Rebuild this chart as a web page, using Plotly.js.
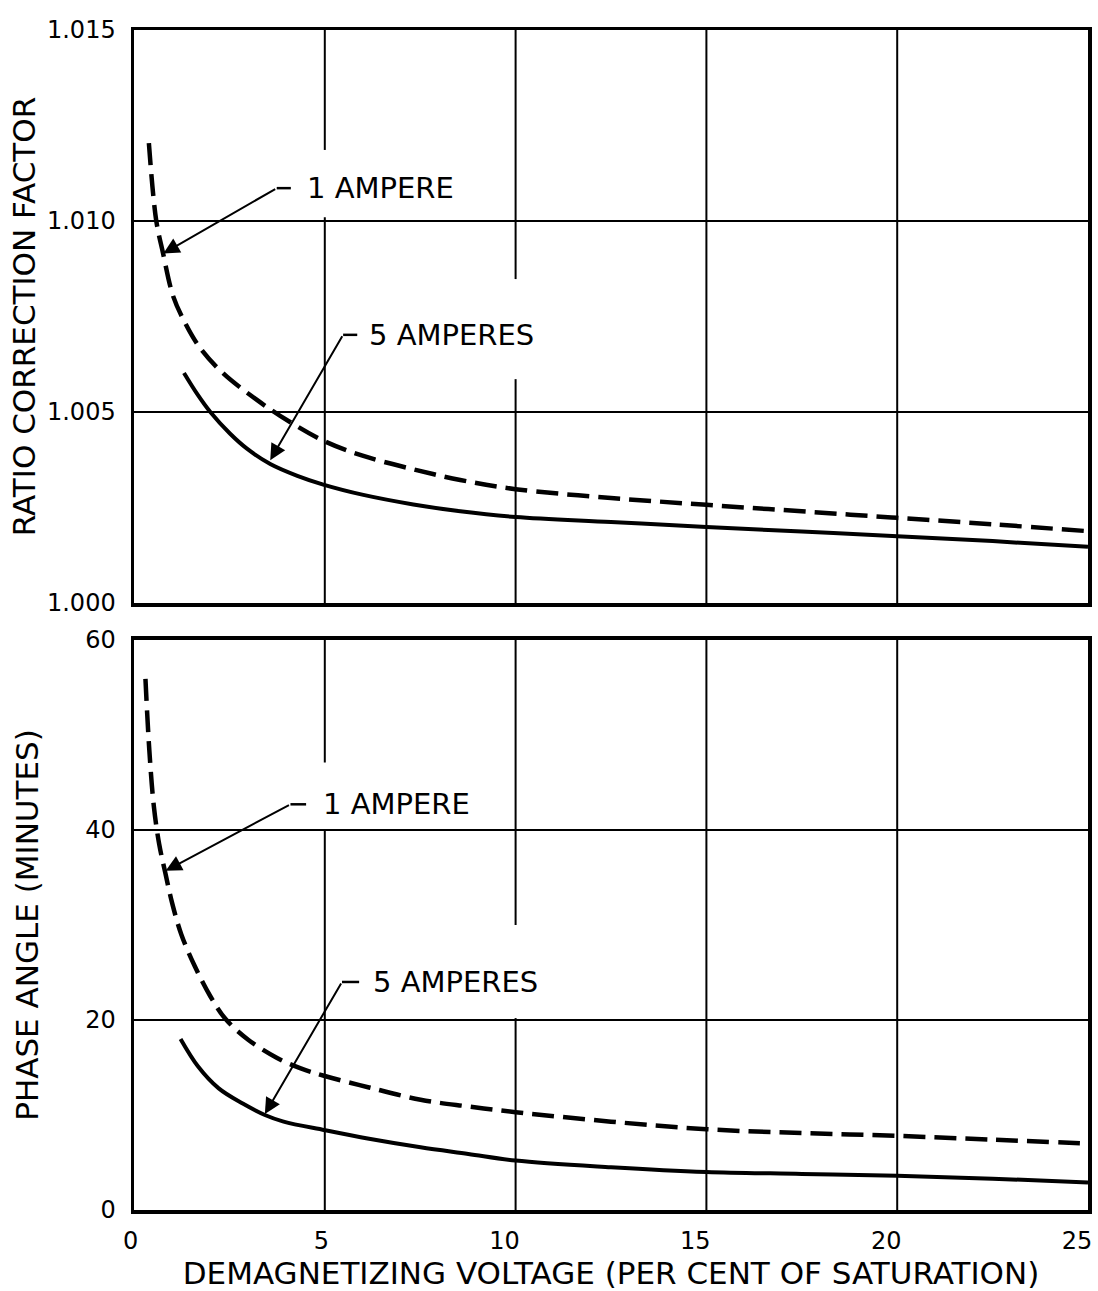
<!DOCTYPE html>
<html>
<head>
<meta charset="utf-8">
<script src="https://cdn.plot.ly/plotly-3.0.1.min.js"></script>
<style>html,body{margin:0;padding:0;background:#fff;}#chart{width:1098px;height:1291px;}</style>
</head>
<body>
<div id="chart"></div>
<script>
// ---- data ----
const ratio1A_x = [0.39, 0.58, 0.76, 1.02, 1.29, 1.73, 2.33, 3.23, 3.83, 4.96, 6.01, 7.32, 8.55, 10, 12.5, 15, 17.5, 20, 22.5, 25];
const ratio1A_y = [1.01204, 1.01003, 1.00916, 1.00805, 1.00743, 1.00668, 1.00602, 1.00531, 1.00490, 1.00425, 1.00385, 1.00350, 1.00322, 1.00298, 1.00275, 1.00257, 1.00240, 1.00223, 1.00206, 1.00188];
const ratio5A_x = [1.31, 1.65, 2.0, 2.52, 2.96, 3.57, 4.28, 4.96, 6.01, 7.32, 8.55, 10, 12.5, 15, 17.5, 20, 22.5, 25];
const ratio5A_y = [1.00602, 1.00548, 1.00500, 1.00443, 1.00404, 1.00364, 1.00333, 1.00310, 1.00283, 1.00258, 1.00240, 1.00225, 1.00212, 1.00199, 1.00187, 1.00175, 1.00162, 1.00147];
const phase1A_x = [0.30, 0.40, 0.52, 0.66, 0.82, 1.0, 1.24, 1.6, 2.0, 2.4, 3.0, 3.75, 4.37, 5.0, 6.16, 7.51, 8.76, 10, 12.5, 15, 17.5, 20, 22.5, 25];
const phase1A_y = [55.9, 48.5, 42.5, 38.5, 35.5, 32.3, 29.0, 25.6, 22.5, 20.1, 17.9, 16.0, 14.9, 14.1, 12.9, 11.6, 10.9, 10.3, 9.3, 8.5, 8.1, 7.8, 7.4, 7.0];
const phase5A_x = [1.22, 1.68, 2.22, 2.85, 3.43, 3.92, 5.0, 6.16, 7.51, 8.76, 10, 12.5, 15, 17.5, 20, 22.5, 25];
const phase5A_y = [18.0, 15.1, 12.8, 11.2, 10.0, 9.3, 8.4, 7.5, 6.6, 5.9, 5.2, 4.5, 4.0, 3.8, 3.6, 3.3, 2.9];

const xTicks = [0, 5, 10, 15, 20, 25];
const ratioTicks = [1.000, 1.005, 1.010, 1.015];
const phaseTicks = [0, 20, 40, 60];

const labels = ['1 AMPERE', '5 AMPERES'];
// vertical grid segments [x, yStart, yEnd]
const ratioGrid = [[5, 1.01186, 1.015], [5, 1.000, 1.0101], [10, 1.00848, 1.015], [10, 1.000, 1.00586], [15, 1.000, 1.015], [20, 1.000, 1.015]];
const phaseGrid = [[5, 47.1, 60], [5, 0, 40], [10, 30.0, 60], [10, 0, 20.2], [15, 0, 60], [20, 0, 60]];
// callouts: [textX, textY, elbowX, stubEndX, tipX, tipY]
const ratioCallouts = [[4.49, 1.01086, 3.74, 4.11, 0.77, 1.00915], [6.1, 1.00702, 5.48, 5.85, 3.57, 1.00374]];
const phaseCallouts = [[4.9, 42.7, 4.10, 4.51, 0.83, 35.7], [6.2, 24.0, 5.45, 5.9, 3.43, 10.1]];

const FONT = 'DejaVu Sans, sans-serif';
const dashStyle = {color: '#000', width: 4.5, dash: '22px,9px', shape: 'spline', smoothing: 1};
const solidStyle = {color: '#000', width: 4, shape: 'spline', smoothing: 1};

const traces = [
  {x: ratio1A_x, y: ratio1A_y, xaxis: 'x', yaxis: 'y', mode: 'lines', line: dashStyle, name: labels[0], showlegend: false},
  {x: ratio5A_x, y: ratio5A_y, xaxis: 'x', yaxis: 'y', mode: 'lines', line: solidStyle, name: labels[1], showlegend: false},
  {x: phase1A_x, y: phase1A_y, xaxis: 'x2', yaxis: 'y2', mode: 'lines', line: dashStyle, name: labels[0], showlegend: false},
  {x: phase5A_x, y: phase5A_y, xaxis: 'x2', yaxis: 'y2', mode: 'lines', line: solidStyle, name: labels[1], showlegend: false}
];

const shapes = [];
const annotations = [];
function addGrid(grid, xr, yr) {
  grid.forEach(g => shapes.push({type: 'line', xref: xr, yref: yr, x0: g[0], x1: g[0], y0: g[1], y1: g[2], line: {color: '#000', width: 2}, layer: 'below'}));
}
function addCallouts(list, xr, yr) {
  list.forEach((c, i) => {
    shapes.push({type: 'line', xref: xr, yref: yr, x0: c[2], x1: c[3], y0: c[1], y1: c[1], line: {color: '#000', width: 2.5}});
    annotations.push({xref: xr, yref: yr, x: c[4], y: c[5], axref: xr, ayref: yr, ax: c[2], ay: c[1], text: '', showarrow: true,
      arrowhead: 2, arrowsize: 1.6, arrowwidth: 2, arrowcolor: '#000'});
    annotations.push({xref: xr, yref: yr, x: c[0], y: c[1], text: labels[i], showarrow: false, xanchor: 'left', yanchor: 'middle',
      font: {family: FONT, size: 29, color: '#000'}});
  });
}
addGrid(ratioGrid, 'x', 'y');
addGrid(phaseGrid, 'x2', 'y2');
addCallouts(ratioCallouts, 'x', 'y');
addCallouts(phaseCallouts, 'x2', 'y2');

const axisCommon = {showline: true, mirror: true, linecolor: '#000', linewidth: 3.5, zeroline: false, ticks: '',
  tickfont: {family: FONT, size: 24, color: '#000'}};

const layout = {
  width: 1098, height: 1291,
  margin: {l: 134, r: 10, t: 30, b: 81},
  paper_bgcolor: '#fff', plot_bgcolor: '#fff',
  font: {family: FONT, color: '#000'},
  xaxis: Object.assign({}, axisCommon, {anchor: 'y', range: [0, 25], tickvals: xTicks, showticklabels: false, showgrid: false}),
  yaxis: Object.assign({}, axisCommon, {domain: [0.5144, 1], range: [1.000, 1.015], tickvals: ratioTicks, tickformat: '.3f',
    showgrid: true, gridcolor: '#000', gridwidth: 2, ticklabelstandoff: 10,
    title: {text: 'RATIO CORRECTION FACTOR', font: {family: FONT, size: 31, color: '#000'}, standoff: 3}}),
  xaxis2: Object.assign({}, axisCommon, {anchor: 'y2', range: [0, 25], tickvals: xTicks, showgrid: false,
    ticklabelstandoff: 7, ticklabelposition: 'outside left', ticklabelshift: 6,
    title: {text: 'DEMAGNETIZING VOLTAGE (PER CENT OF SATURATION)', font: {family: FONT, size: 31, color: '#000'}, standoff: 19}}),
  yaxis2: Object.assign({}, axisCommon, {domain: [0, 0.4831], range: [0, 60], tickvals: phaseTicks,
    showgrid: true, gridcolor: '#000', gridwidth: 2, ticklabelstandoff: 10,
    title: {text: 'PHASE ANGLE (MINUTES)', font: {family: FONT, size: 31, color: '#000'}, standoff: 38}}),
  shapes: shapes,
  annotations: annotations,
  showlegend: false
};

Plotly.newPlot('chart', traces, layout, {displayModeBar: false, staticPlot: true});
</script>
</body>
</html>
